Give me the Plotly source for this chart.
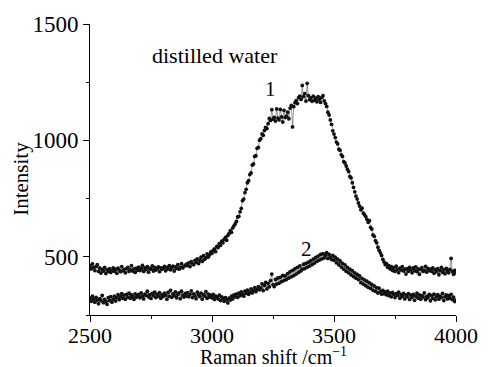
import plotly.graph_objects as go

# Raman shift sampling (cm^-1): start and step of the spectra
x_start = 2500
x_step = 5

# Curve 1 (upper spectrum), intensity values
curve1 = [
    462, 448, 470, 455, 441, 458, 466, 437, 452, 430, 446, 439, 455, 428, 444, 437, 449, 433, 441, 452,
    438, 447, 429, 451, 443, 436, 458, 440, 446, 431, 449, 455, 437, 444, 462, 439, 448, 433, 451, 442,
    456, 441, 449, 463, 437, 452, 445, 458, 434, 450, 447, 461, 439, 454, 443, 449, 457, 436, 452, 446,
    451, 459, 440, 455, 448, 462, 444, 453, 460, 439, 457, 450, 466, 447, 455, 471, 452, 459, 463, 468,
    462, 474, 458, 479, 470, 466, 485, 476, 491, 471, 484, 498, 480, 505, 489, 496, 512, 499, 508, 521,
    515, 528, 534, 522, 545, 540, 556, 549, 567, 560, 575, 583, 571, 592, 600, 612, 605, 624, 633, 641,
    652, 671, 674, 693, 708, 741, 748, 776, 790, 818, 827, 853, 860, 894, 899, 931, 934, 966, 970, 1001,
    1008, 1028, 1022, 1043, 1056, 1051, 1072, 1094, 1086, 1132, 1091, 1099, 1083, 1135, 1096, 1088, 1133, 1101, 1079, 1129,
    1098, 1104, 1121, 1093, 1139, 1150, 1058, 1145, 1162, 1171, 1158, 1184, 1190, 1176, 1236, 1188, 1201, 1169, 1245, 1192,
    1175, 1183, 1168, 1190, 1172, 1181, 1166, 1188, 1177, 1163, 1185, 1192, 1170, 1158, 1146, 1121, 1109, 1088, 1069, 1041,
    1027, 1012, 993, 985, 962, 957, 938, 931, 909, 903, 890, 876, 866, 845, 839, 818, 798, 779, 761, 748,
    731, 718, 702, 709, 688, 681, 673, 661, 648, 655, 626, 619, 594, 588, 569, 560, 541, 528, 517, 506,
    489, 478, 466, 471, 455, 462, 448, 458, 441, 453, 437, 460, 446, 432, 451, 443, 458, 439, 447, 426,
    449, 438, 455, 444, 431, 452, 440, 457, 436, 448, 425, 446, 453, 437, 442, 459, 434, 450, 441, 447,
    438, 452, 429, 445, 436, 449, 423, 441, 455, 433, 444, 427, 450, 438, 431, 446, 493, 437, 425, 442, 432,
]

# Curve 2 (lower spectrum)
curve2 = [
    322, 309, 331, 318, 305, 326, 314, 298, 320, 311, 334, 303, 317, 308, 296, 325, 312, 329, 305, 318,
    331, 310, 324, 337, 316, 329, 342, 321, 335, 318, 339, 327, 344, 322, 336, 330, 317, 341, 326, 333,
    338, 324, 345, 331, 319, 340, 334, 352, 327, 337, 321, 343, 333, 348, 325, 339, 331, 346, 322, 336,
    329, 344, 335, 318, 347, 330, 356, 326, 341, 333, 349, 324, 338, 345, 320, 352, 334, 327, 343, 331,
    346, 328, 339, 354, 325, 341, 333, 320, 348, 336, 329, 344, 318, 337, 331, 350, 322, 340, 327, 335,
    324, 338, 317, 331, 326, 319, 335, 312, 328, 321, 309, 325, 316, 302, 322, 314, 331, 319, 336, 328,
    340, 326, 344, 333, 349, 338, 331, 352, 343, 357, 339, 348, 362, 345, 355, 368, 350, 361, 372, 358,
    366, 384, 355, 377, 390, 362, 386, 371, 398, 426, 380, 372, 403, 383, 409, 386, 412, 393, 420, 398,
    418, 402, 428, 409, 436, 414, 442, 419, 449, 426, 455, 433, 461, 440, 447, 468, 449, 472, 455, 477,
    460, 483, 466, 490, 473, 497, 480, 503, 486, 510, 491, 514, 495, 507, 518, 493, 510, 497, 488, 506,
    485, 498, 474, 490, 465, 482, 456, 472, 447, 465, 438, 455, 431, 447, 422, 440, 415, 431, 408, 424,
    402, 418, 389, 407, 383, 401, 376, 395, 369, 388, 364, 381, 356, 375, 352, 368, 344, 365, 349, 340,
    356, 341, 349, 337, 352, 333, 344, 328, 347, 339, 325, 342, 334, 348, 322, 337, 330, 343, 319, 336,
    328, 342, 317, 335, 326, 339, 313, 331, 344, 322, 336, 318, 333, 327, 345, 316, 330, 324, 338, 311,
    334, 321, 340, 315, 329, 337, 318, 331, 325, 343, 312, 328, 336, 319, 333, 322, 339, 316, 327, 308, 314,
]

x_ticks = [2500, 3000, 3500, 4000]
y_ticks = [500, 1000, 1500]

shift1 = [x_start + x_step * i for i in range(len(curve1))]
shift2 = [x_start + x_step * i for i in range(len(curve2))]

FONT = "Liberation Serif"

fig = go.Figure()
for xs, ys in ((shift1, curve1), (shift2, curve2)):
    fig.add_trace(go.Scatter(
        x=xs, y=ys, mode="lines+markers",
        line=dict(color="#555555", width=0.6),
        marker=dict(color="#111111", size=3.8),
        showlegend=False, hoverinfo="skip",
    ))

axis_common = dict(
    showline=True, linecolor="black", linewidth=1, mirror=False,
    showgrid=False, zeroline=False,
    ticks="outside", ticklen=6, tickwidth=1, tickcolor="black",
)

fig.update_xaxes(range=[2500, 4000], tickvals=x_ticks, ticklabelstandoff=-5, **axis_common,
                 tickfont=dict(family=FONT, size=22, color="black"),
                 minor=dict(ticks="outside", ticklen=3, tickcolor="black", dtick=250, tick0=2500))
fig.update_yaxes(range=[250, 1500], tickvals=y_ticks, **axis_common,
                 tickfont=dict(family=FONT, size=23, color="black"),
                 minor=dict(ticks="outside", ticklen=3, tickcolor="black", dtick=250, tick0=250))

ann = []
ann.append(dict(x=3012, y=1366, xref="x", yref="y", text="distilled water", showarrow=False,
                font=dict(family=FONT, size=22, color="black")))
ann.append(dict(x=3238, y=1220, xref="x", yref="y", text="1", showarrow=False,
                font=dict(family=FONT, size=21, color="black")))
ann.append(dict(x=3389, y=533, xref="x", yref="y", text="2", showarrow=False,
                font=dict(family=FONT, size=21, color="black")))
ann.append(dict(x=0, y=0.468, xref="paper", yref="paper", xshift=-69, xanchor="center",
                yanchor="middle", text="Intensity",
                textangle=-90, showarrow=False, font=dict(family=FONT, size=21, color="black")))
ann.append(dict(x=0.5, y=0, xref="paper", yref="paper", yshift=-41, yanchor="middle",
                xanchor="center",
                text="Raman shift /cm<sup>\u22121</sup>", showarrow=False,
                font=dict(family=FONT, size=20, color="black")))

fig.update_layout(
    width=494, height=367,
    margin=dict(l=90, r=38, t=16, b=52),
    paper_bgcolor="white", plot_bgcolor="white",
    annotations=ann,
)

fig.write_html("out.html")
